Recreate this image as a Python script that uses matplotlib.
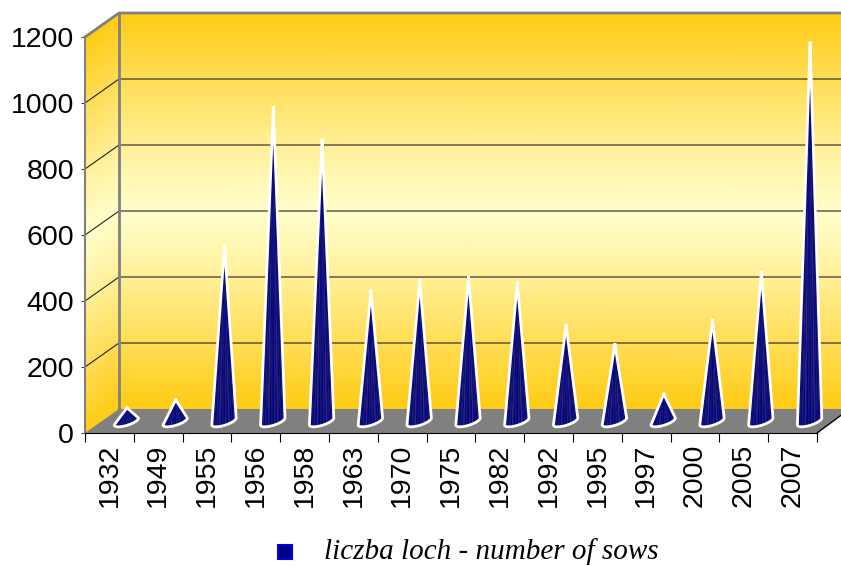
#!/usr/bin/env python3
"""Sow numbers per year, drawn as 3D-looking cones on a gold box."""

import numpy as np
import matplotlib

matplotlib.use("Agg")
import matplotlib.pyplot as plt
from matplotlib.colors import LinearSegmentedColormap
from matplotlib.patches import Rectangle

# Data
years = ["1932", "1949", "1955", "1956", "1958", "1963", "1970", "1975",
         "1982", "1992", "1995", "1997", "2000", "2005", "2007"]
sows = [40, 64, 530, 950, 850, 395, 425, 435, 420, 290, 232, 82, 305, 450, 1145]
y_ticks = [0, 200, 400, 600, 800, 1000, 1200]
legend_label = "liczba loch - number of sows"

# Box depth, in data units (one category across, sow count up)
DEPTH_X = 34 / 48.8
DEPTH_Y = 24 / 0.33
PX_X = 1 / 48.8
PX_Y = 1 / 0.33
RIGHT_EDGE = 15.5

STRIPES = ["#000080", "#1c1c74", "#00008c", "#2a2a70", "#000084", "#121278"]


def gradient_wall(ax, cmap, x_left, x_right, skew):
    """Vertical gold gradient on a wall, sheared up by skew across its width."""
    t = np.linspace(0, 1, 60)
    x = np.array([x_left, x_right])
    X, T = np.meshgrid(x, t)
    Y = T * 1200 + np.array([0, skew])
    ax.pcolormesh(X, Y + (0 if skew else DEPTH_Y), T, cmap=cmap, shading="gouraud",
                  clip_on=False, zorder=1)


def draw_cone(ax, pos, value):
    """One cone: striped fan from the base arc up to the apex, white outline."""
    cx = pos + 0.5 + DEPTH_X / 2
    base_y = DEPTH_Y / 2
    a = np.linspace(0, np.pi, 25)
    bx = cx - np.cos(a) * 12.2 * PX_X
    by = base_y - (0.5 + 3.5 * np.cos(a) + 4 * np.sin(a)) * PX_Y
    apex_x = cx + 0.5 * PX_X
    apex_y = base_y + value

    t = np.linspace(0, 1, 12)
    k = (1 - t) ** 1.12

    def side(px, py):
        return apex_x + (px - apex_x) * k, by.max() + (py - by.max()) * k + (apex_y - by.max()) * (1 - k)

    for i in range(len(a) - 1):
        x0, y0 = side(bx[i], by[i])
        x1, y1 = side(bx[i + 1], by[i + 1])
        c = STRIPES[i % len(STRIPES)]
        ax.fill(np.r_[x0, x1[::-1]], np.r_[y0, y1[::-1]], color=c, lw=0.4,
                clip_on=False, zorder=4)

    lx, ly = side(bx[0], by[0])
    rx, ry = side(bx[-1], by[-1])
    ax.plot(np.r_[lx[::-1], bx, rx], np.r_[ly[::-1], by, ry], color="white", lw=2.0,
            solid_joinstyle="round", clip_on=False, zorder=5)


def main():
    fig = plt.figure(figsize=(8.41, 5.66), dpi=100)
    plt.rcParams["font.family"] = "Liberation Sans"
    ax = fig.add_axes([85 / 841, (566 - 433) / 566, 732 / 841, 396 / 566])
    ax.patch.set_alpha(0)
    ax.set_xlim(0, 15)
    ax.set_ylim(0, 1200)

    cmap = LinearSegmentedColormap.from_list(
        "gold", [(0, "#FFCB14"), (0.38, "#FFF4A8"), (0.5, "#FFFFCC"),
                 (0.62, "#FFF4A8"), (1, "#FFCB14")]
    )

    # Back wall and left wall
    gradient_wall(ax, cmap, DEPTH_X, RIGHT_EDGE, 0)
    gradient_wall(ax, cmap, 0, DEPTH_X, DEPTH_Y)

    # Gridlines on both walls
    for v in y_ticks[1:-1]:
        ax.plot([0, DEPTH_X, RIGHT_EDGE], [v, v + DEPTH_Y, v + DEPTH_Y], color="#222222",
                lw=0.8, clip_on=False, zorder=2)

    # Floor
    ax.fill([0, DEPTH_X, RIGHT_EDGE, RIGHT_EDGE, 15], [0, DEPTH_Y, DEPTH_Y, 18 * PX_Y, 0],
            color="#808080", lw=0, clip_on=False, zorder=3)
    ax.plot([15, RIGHT_EDGE], [0, 18 * PX_Y], color="black", lw=1, clip_on=False, zorder=3)

    # Box edges
    edge = dict(color="#808080", lw=2, clip_on=False, zorder=3)
    ax.plot([DEPTH_X, DEPTH_X], [DEPTH_Y, 1200 + DEPTH_Y], **edge)
    ax.plot([0, DEPTH_X, RIGHT_EDGE], [1200, 1200 + DEPTH_Y, 1200 + DEPTH_Y], **edge)

    for i, v in enumerate(sows):
        draw_cone(ax, i, v)

    # Axes
    for name in ["top", "right"]:
        ax.spines[name].set_visible(False)
    ax.spines["left"].set_color("#808080")
    ax.spines["left"].set_linewidth(1.5)
    ax.spines["bottom"].set_zorder(6)
    ax.set_yticks(y_ticks)
    ax.tick_params(axis="y", labelsize=20.5, length=3, pad=5, color="#444444")
    ax.set_xticks(np.arange(16))
    ax.set_xticklabels([])
    ax.set_xticks(np.arange(15) + 0.5, minor=True)
    ax.set_xticklabels(years, minor=True, rotation=90, fontsize=20.5)
    ax.tick_params(axis="x", which="major", length=6.5)
    ax.tick_params(axis="x", which="minor", length=0, pad=8)

    # Legend
    fig.patches.append(Rectangle((278 / 841, 1 - 559 / 566), 14 / 841, 14 / 566,
                                 transform=fig.transFigure, facecolor="#000080",
                                 edgecolor="#0000E0", lw=1.5))
    fig.text(324 / 841, 1 - 559 / 566, legend_label, family="Liberation Serif",
             style="italic", fontsize=21, ha="left", va="baseline")

    fig.savefig("out.png", dpi=100)


if __name__ == "__main__":
    main()
